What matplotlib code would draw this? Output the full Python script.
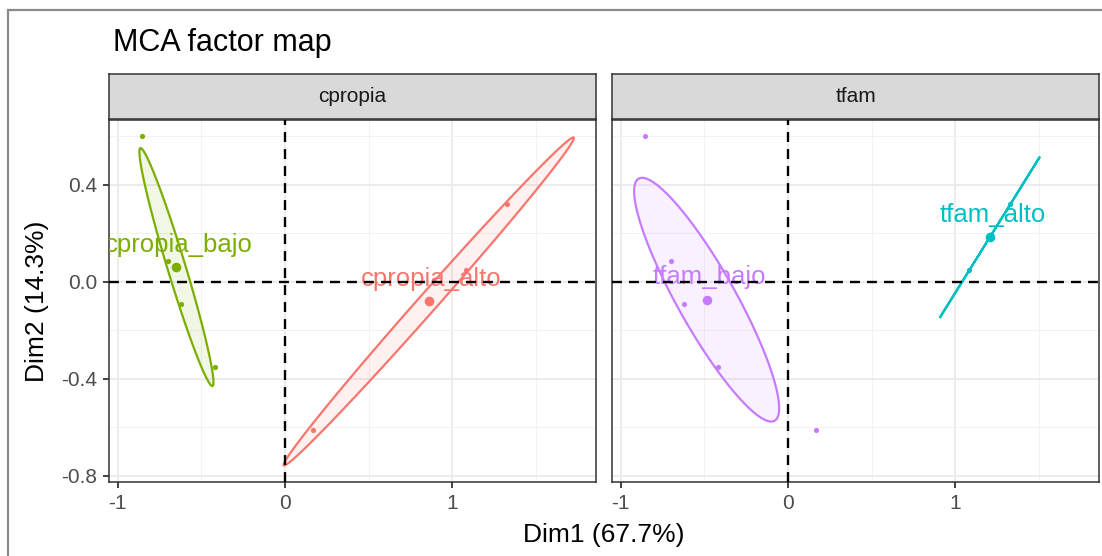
import numpy as np
import matplotlib
matplotlib.use('Agg')
import matplotlib.pyplot as plt
from matplotlib.patches import Polygon, Rectangle

plt.rcParams['font.family'] = ['Liberation Sans', 'DejaVu Sans']
plt.rcParams['axes.unicode_minus'] = False

# individual coordinates on Dim1 / Dim2
dim1 = [-0.855, -0.700, -0.620, -0.420, 0.165, 1.085, 1.330]
dim2 = [0.600, 0.085, -0.092, -0.350, -0.612, 0.048, 0.320]

# category of each individual for both variables
cpropia = ['bajo', 'bajo', 'bajo', 'bajo', 'alto', 'alto', 'alto']
tfam = ['bajo', 'bajo', 'bajo', 'bajo', 'bajo', 'alto', 'alto']

variables = ['cpropia', 'tfam']
groups = {'cpropia': cpropia, 'tfam': tfam}
colors = {'cpropia_alto': '#F8766D', 'cpropia_bajo': '#7CAE00',
          'tfam_alto': '#00BFC4', 'tfam_bajo': '#C77CFF'}

xticks = [-1, 0, 1]
yticks = [-0.8, -0.4, 0.0, 0.4]

x = np.array(dim1)
y = np.array(dim2)


def conf_ellipse(px, py, level_t=np.sqrt(5.991464547), n=100):
    # confidence ellipse around the barycentre (like factoextra, type "confidence")
    data = np.column_stack([px, py])
    center = data.mean(axis=0)
    cov = np.cov(data, rowvar=False) / len(px)
    vals, vecs = np.linalg.eigh(cov)
    vals = np.clip(vals, 0, None)
    t = np.linspace(0, 2 * np.pi, n)
    circ = np.column_stack([np.cos(t), np.sin(t)])
    pts = center + level_t * circ @ (vecs * np.sqrt(vals)).T
    return pts


# compute ellipses and shared limits
ell = {}
allx, ally = list(x), list(y)
for v in variables:
    lab = np.array(groups[v])
    for cat in ['alto', 'bajo']:
        m = lab == cat
        pts = conf_ellipse(x[m], y[m])
        ell[v + '_' + cat] = (pts, m)
        allx += list(pts[:, 0])
        ally += list(pts[:, 1])
xr = max(allx) - min(allx)
yr = max(ally) - min(ally)
xlim = (min(allx) - 0.05 * xr, max(allx) + 0.05 * xr)
ylim = (min(ally) - 0.05 * yr, max(ally) + 0.05 * yr)

W, H = 1102, 556
fig = plt.figure(figsize=(W / 100, H / 100), dpi=100)

# outer frame
fig.patches.append(Rectangle((8 / W, -0.1), 1.2, 1 - 10 / H + 0.1, transform=fig.transFigure,
                             fill=False, ec='#8a8a8a', lw=1.6))

lefts = [109, 612]
pw, ptop, pbot = 487, 120, 482
for i, v in enumerate(variables):
    ax = fig.add_axes([lefts[i] / W, 1 - pbot / H, pw / W, (pbot - ptop) / H])
    ax.set_xlim(xlim)
    ax.set_ylim(ylim)
    ax.set_xticks(xticks)
    ax.set_xticklabels([str(t) for t in xticks])
    ax.set_xticks([-0.5, 0.5, 1.5], minor=True)
    ax.set_yticks(yticks)
    ax.set_yticks([-0.6, -0.2, 0.2, 0.6], minor=True)
    ax.grid(True, which='major', color='#EBEBEB', lw=1.3, zorder=0)
    ax.grid(True, which='minor', color='#F2F2F2', lw=0.7, zorder=0)
    ax.set_axisbelow(True)
    ax.tick_params(which='minor', length=0)
    ax.tick_params(which='major', length=4.5, width=1.3, color='#333333',
                   labelsize=15, labelcolor='#4D4D4D', pad=4)
    if i == 0:
        ax.set_yticklabels([f'{t:.1f}' for t in yticks])
    else:
        ax.tick_params(axis='y', left=False, labelleft=False)
    for s in ax.spines.values():
        s.set_color('#333333')
        s.set_linewidth(1.1)

    for cat in ['alto', 'bajo']:
        key = v + '_' + cat
        pts, m = ell[key]
        c = colors[key]
        ax.add_patch(Polygon(pts, closed=True, fc=c, alpha=0.1, ec='none', zorder=2))
        ax.add_patch(Polygon(pts, closed=True, fill=False, ec=c, lw=1.6, zorder=3))
        ax.scatter(x[m], y[m], s=14, color=c, zorder=4, linewidths=0)
        mx, my = x[m].mean(), y[m].mean()
        ax.scatter([mx], [my], s=48, color=c, zorder=5, linewidths=0)
        t = ax.annotate(key, (mx, my), xytext=(2, 16), textcoords='offset points',
                        ha='center', va='center', color=c, fontsize=18.5, zorder=6)
        t.set_clip_path(ax.patch)
        t.set_clip_on(True)

    ax.axhline(0, color='black', lw=1.7, ls=(0, (4.2, 3.0)), zorder=7)
    ax.axvline(0, color='black', lw=1.7, ls=(0, (4.2, 3.0)), zorder=7)

    # facet strip
    sax = fig.add_axes([lefts[i] / W, 1 - 119 / H, pw / W, 45 / H])
    sax.set_facecolor('#D9D9D9')
    sax.set_xticks([])
    sax.set_yticks([])
    for s in sax.spines.values():
        s.set_color('#333333')
        s.set_linewidth(1.1)
    sax.text(0.5, 0.5, v, ha='center', va='center', fontsize=15, color='#1A1A1A',
             transform=sax.transAxes)

fig.text(113 / W, 1 - 51 / H, 'MCA factor map', fontsize=22, ha='left', va='baseline')
fig.text((109 + 1099) / 2 / W, 1 - 535 / H, 'Dim1 (67.7%)', fontsize=19, ha='center', va='center')
fig.text(37 / W, 1 - 301 / H, 'Dim2 (14.3%)', fontsize=19, ha='center', va='center', rotation=90)

fig.savefig('out.png', dpi=100)
